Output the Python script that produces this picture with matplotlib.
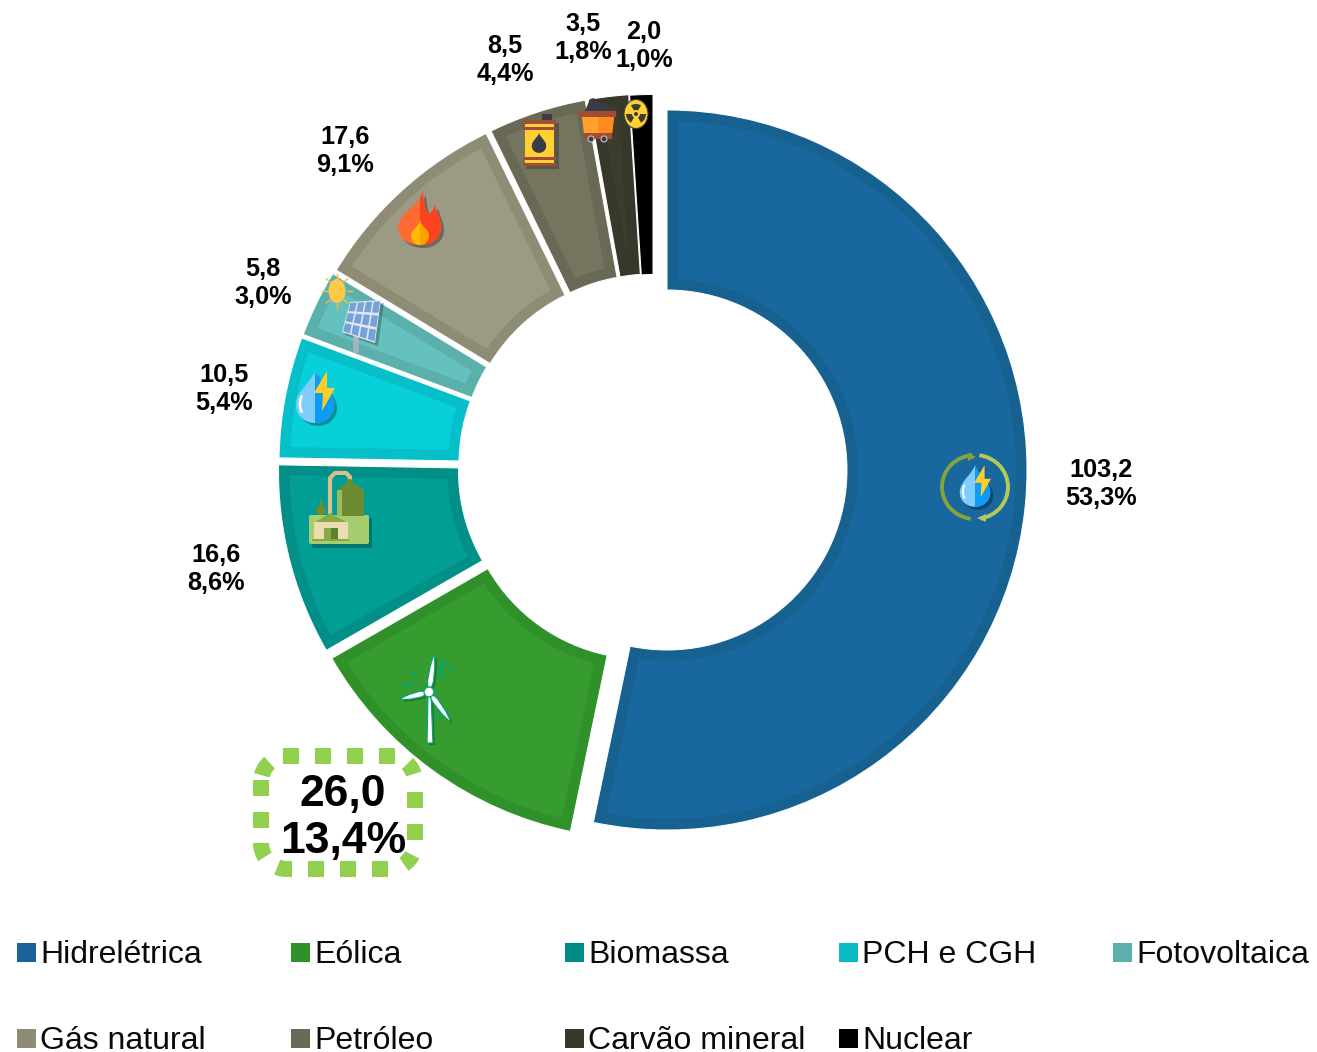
import numpy as np
import matplotlib
matplotlib.use('Agg')
import matplotlib.pyplot as plt
from matplotlib.patches import Wedge, Rectangle, FancyBboxPatch, PathPatch, Circle, Polygon, Ellipse, Arc
from matplotlib.path import Path
from matplotlib.transforms import Affine2D

plt.rcParams['font.family'] = ['Liberation Sans', 'DejaVu Sans']

# data
names = ['Hidrelétrica', 'Eólica', 'Biomassa', 'PCH e CGH', 'Fotovoltaica',
         'Gás natural', 'Petróleo', 'Carvão mineral', 'Nuclear']
values = [103.2, 26.0, 16.6, 10.5, 5.8, 17.6, 8.5, 3.5, 2.0]
percents = ['53,3%', '13,4%', '8,6%', '5,4%', '3,0%', '9,1%', '4,4%', '1,8%', '1,0%']

# colours
fills = ['#19679F', '#379C30', '#019E95', '#08D0DB', '#64C1BD', '#9C9A82', '#75745F', '#3D3D2E', '#000000']
borders = ['#16618F', '#30902A', '#018F88', '#06BFC9', '#5BB0AC', '#8E8C75', '#6A6956', '#37372A', '#000000']
legend_cols = ['#19639A', '#30902A', '#008C86', '#0ABBC6', '#5BB0AC', '#8E8C75', '#6A6956', '#37372A', '#000000']

# every slice is pulled out a bit differently in the original (pixel centres)
centres = [(667, 470), (644, 479), (638.5, 471), (639, 464), (640.5, 460.5),
           (644, 457), (649, 454.5), (652, 454), (653, 454.5)]
label_pos = [(1101, 484), (343, 818), (216, 569), (224, 389), (263, 283),
             (345, 151), (505, 60), (583, 38), (644, 46)]
R_OUT = 360
R_IN = 180
BORDER = 11
DARK = '#3B3B45'

fig = plt.figure(figsize=(13.17, 10.52), dpi=100)
ax = fig.add_axes([0, 0, 1, 1])
ax.set_xlim(0, 1317)
ax.set_ylim(1052, 0)
ax.axis('off')
PX = 72 / fig.dpi

# donut, clockwise from the top
angle = 0
total = sum(values)
for i, v in enumerate(values):
    span = v / total * 360
    w = Wedge(centres[i], R_OUT, angle - 90, angle + span - 90, width=R_OUT - R_IN,
              facecolor=fills[i], edgecolor=borders[i], linewidth=2 * BORDER * PX,
              joinstyle='miter', zorder=2)
    ax.add_patch(w)
    w.set_clip_path(w)
    # thin white separator
    ax.add_patch(Wedge(centres[i], R_OUT, angle - 90, angle + span - 90, width=R_OUT - R_IN,
                       facecolor='none', edgecolor='white', linewidth=1.0 * PX, zorder=3))
    angle += span


def tr(x, y, s=1.0):
    return Affine2D().scale(s).translate(x, y) + ax.transData


def curve(start, segs):
    # closed path out of cubic pieces, each seg is 3 points
    verts = [start]
    codes = [Path.MOVETO]
    for seg in segs:
        verts += seg
        codes += [Path.CURVE4] * 3
    verts.append(start)
    codes.append(Path.CLOSEPOLY)
    return Path(verts, codes)


def poly(pts, color, z=6):
    ax.add_patch(Polygon(pts, facecolor=color, edgecolor='none', zorder=z))


def half_shade(path, left, right, split, x=0, y=0, s=1.0, z=6, shadow=True):
    # left colour with the right part of the same outline in a second colour
    if shadow:
        ax.add_patch(PathPatch(path, facecolor='black', edgecolor='none', alpha=0.3,
                               transform=tr(x + 3, y + 3, s), zorder=z - 0.5))
    ax.add_patch(PathPatch(path, facecolor=left, edgecolor='none', transform=tr(x, y, s), zorder=z))
    p = PathPatch(path, facecolor=right, edgecolor='none', transform=tr(x, y, s), zorder=z + 0.1)
    ax.add_patch(p)
    p.set_clip_path(Rectangle((split, -2000), 4000, 4000, transform=tr(x, y, s)))


drop = curve((0, -26), [[(-4, -14), (-19, -6), (-19, 8)], [(-19, 19), (-10, 26), (0, 26)],
                        [(10, 26), (19, 19), (19, 8)], [(19, -6), (4, -14), (0, -26)]])


def bolt_drop(x, y, s):
    half_shade(drop, '#80CCFF', '#0C9BF7', 0, x, y, s)
    ax.add_patch(Arc((-8, 7), 14, 24, theta1=120, theta2=240, color='white', lw=1.8 * s,
                     transform=tr(x, y, s), zorder=6.2))
    bolt = [(12, -26), (-1, -4), (8, -4), (7, 14), (20, -9), (12, -9)]
    ax.add_patch(Polygon(bolt, facecolor='#FFCD28', edgecolor='none', transform=tr(x, y, s), zorder=6.3))


# hydro icon with arrows around the drop
bolt_drop(975, 486, 0.8)
for t1, t2, col in [(98, 265, '#87A33B'), (-82, 80, '#B5C85A')]:
    ax.add_patch(Arc((975, 487), 66, 64, theta1=t1, theta2=t2, color=col, lw=2.8, zorder=6))
poly([(968, 453), (976, 457), (968, 461)], '#87A33B')
poly([(986, 514), (977, 518), (986, 522)], '#B5C85A')

# PCH drop
bolt_drop(315, 397, 1.0)


# wind turbine
def blade(p0, p1, width, z):
    p0 = np.array(p0, float)
    p1 = np.array(p1, float)
    d = p1 - p0
    n = np.array([-d[1], d[0]]) / np.hypot(*d)
    pts = [p0 + n * width * 0.3, p0 + d * 0.3 + n * width, p0 + d * 0.7 + n * width * 0.8, p0 + d * 0.96 + n * width * 0.3,
           p1, p0 + d * 0.96 - n * width * 0.3, p0 + d * 0.7 - n * width * 0.8, p0 + d * 0.3 - n * width,
           p0 - n * width * 0.3]
    ax.add_patch(Polygon(np.array(pts) + 2, facecolor='black', edgecolor='none', alpha=0.25, zorder=z - 0.3))
    ax.add_patch(Polygon(pts, facecolor='white', edgecolor='#00A57E', lw=0.9, zorder=z))


HUB = (429, 692)
tower = [(428, 692), (431, 692), (433, 743), (427, 743)]
ax.add_patch(Polygon(np.array(tower) + 2, facecolor='black', edgecolor='none', alpha=0.25, zorder=5.7))
ax.add_patch(Polygon(tower, facecolor='white', edgecolor='#00A57E', lw=0.9, zorder=6))
for tip in [(434, 656), (401, 699), (450, 721)]:
    blade(HUB, tip, 3, 6.2)
ax.add_patch(Circle(HUB, 5, facecolor='white', edgecolor='#00A57E', lw=1, zorder=6.4))
for (a, b, c, d) in [(447, 664, 453, 672), (441, 662, 439, 678), (409, 671, 416, 674), (403, 686, 416, 683),
                     (444, 660, 442, 677), (434, 720, 440, 716), (435, 713, 442, 708)]:
    ax.plot([a, c], [b, d], color='#00A57E', lw=1.1, zorder=5.5)

# biomass plant
ax.add_patch(Rectangle((312, 518), 60, 30, facecolor='black', alpha=0.25, zorder=5))
ax.add_patch(FancyBboxPatch((309, 515), 60, 29, boxstyle='round,pad=0,rounding_size=2',
                            facecolor='#A5CE6E', edgecolor='none', zorder=6))
ax.add_patch(Rectangle((337, 490), 27, 26, facecolor='#6D8B32', edgecolor='none', zorder=6.1))
ax.add_patch(Rectangle((337, 490), 5, 26, facecolor='#9DBB5A', edgecolor='none', zorder=6.2))
poly([(337, 490), (345, 484), (356, 484), (364, 490)], '#6D8B32', 6.1)
ax.add_patch(Circle((350, 482), 3, facecolor='#6D8B32', zorder=6.1))
ax.plot([330, 330, 335, 346, 350, 350], [512, 478, 473, 473, 477, 484],
        color='#D9BE8E', lw=3, zorder=6.05, solid_joinstyle='round')
ax.add_patch(Circle((321, 510), 5, facecolor='#6D8B32', zorder=6.1))
ax.plot([321, 321], [500, 508], color='#6D8B32', lw=1.5, zorder=6.1)
poly([(314, 523), (330, 513), (348, 523)], '#86A943', 6.3)
ax.add_patch(Rectangle((314, 522), 34, 17, facecolor='#EBDDB0', edgecolor='none', zorder=6.3))
ax.add_patch(Rectangle((324, 528), 14, 11, facecolor='#86A943', edgecolor='none', zorder=6.4))
ax.add_patch(Rectangle((331, 528), 7, 11, facecolor='#5E7F2B', edgecolor='none', zorder=6.5))
ax.add_patch(Rectangle((312, 539), 37, 2, facecolor='#86A943', edgecolor='none', zorder=6.4))

# sun and solar panel
for a in np.radians(np.arange(0, 360, 45)):
    ax.plot([337 + 10 * np.cos(a), 337 + 15 * np.cos(a)], [291 + 13 * np.sin(a), 291 + 17 * np.sin(a)],
            color='#F4B942', lw=1, zorder=6)
ax.add_patch(Ellipse((337, 291), 17, 24, facecolor='#FFC94A', edgecolor='none', zorder=6.1))
ax.plot([356, 356], [338, 350], color='#A9B4BE', lw=4, zorder=6)
panel = [(350, 302), (381, 300), (375, 343), (342, 332)]
ax.add_patch(Polygon(np.array(panel) + 3, facecolor='black', alpha=0.25, edgecolor='none', zorder=5.9))
poly(panel, '#E1E6EC', 6.1)
top = np.array(panel[0], float), np.array(panel[1], float)
bot = np.array(panel[3], float), np.array(panel[2], float)
for r in range(3):
    for c in range(4):
        q = []
        for u, w_ in [(c + .1, r + .1), (c + .9, r + .1), (c + .9, r + .9), (c + .1, r + .9)]:
            a = top[0] + (top[1] - top[0]) * u / 4
            b = bot[0] + (bot[1] - bot[0]) * u / 4
            q.append(a + (b - a) * w_ / 3)
        poly(q, '#74A3DA', 6.2)

# flame
flame = curve((422, 190), [[(424, 204), (398, 212), (398, 228)], [(398, 238), (408, 245), (420, 245)],
                           [(432, 245), (441, 238), (441, 227)], [(441, 218), (436, 212), (435, 205)],
                           [(434, 210), (431, 213), (428, 214)], [(424, 208), (424, 198), (422, 190)]])
half_shade(flame, '#FF6A33', '#FC431E', 420)
core = curve((420, 220), [[(420, 226), (411, 230), (411, 235)], [(411, 241), (415, 245), (420, 245)],
                          [(425, 245), (429, 241), (429, 235)], [(429, 230), (421, 227), (420, 220)]])
half_shade(core, '#FFBB00', '#FFA000', 420, z=6.3, shadow=False)

# oil barrel
ax.add_patch(Rectangle((526, 123), 33, 46, facecolor='black', alpha=0.25, zorder=5))
ax.add_patch(Rectangle((525, 122), 29, 42, facecolor='#FFD033', edgecolor='none', zorder=6))
for yy, hh in [(120, 4), (127, 2.5), (157, 3), (163, 3)]:
    ax.add_patch(Rectangle((523, yy), 33, hh, facecolor='#A34B33', edgecolor='none', zorder=6.1))
ax.add_patch(Rectangle((542, 114), 10, 6, facecolor=DARK, edgecolor='none', zorder=6))
ax.add_patch(PathPatch(drop, facecolor=DARK, edgecolor='none', transform=tr(539, 143, 0.38), zorder=6.2))

# mine cart
poly([(590, 99), (594, 98), (599, 103), (604, 102), (610, 111), (585, 111)], DARK, 6)
poly([(582, 117), (614, 117), (612, 134), (584, 134)], '#FFA12B', 6.1)
poly([(598, 117), (614, 117), (612, 134), (598, 134)], '#FF8A1F', 6.2)
ax.add_patch(Rectangle((579, 111), 37, 6, facecolor='#A34B33', edgecolor='none', zorder=6.3))
ax.add_patch(Rectangle((583, 133), 29, 6, facecolor='#A34B33', edgecolor='none', zorder=6.3))
for xx in [591, 604]:
    ax.add_patch(Circle((xx, 139), 3, facecolor=DARK, edgecolor='#C0C4CC', lw=0.8, zorder=6.4))

# radiation badge
ax.add_patch(Ellipse((636, 114), 24, 29, facecolor='#FFD033', edgecolor='#3D3D2E', lw=0.8, zorder=6))
for a in [270, 30, 150]:
    ax.add_patch(Wedge((636, 114), 10, a - 30, a + 30, width=6, facecolor='#3D3D2E', edgecolor='none', zorder=6.1))
ax.add_patch(Circle((636, 114), 2, facecolor='#3D3D2E', edgecolor='none', zorder=6.1))

# dashed highlight round the wind label, dashes placed one by one to land where the original has them
GREEN = '#92D050'
for xx in [283, 315, 347, 379]:
    ax.add_patch(Rectangle((xx, 748), 16, 16, facecolor=GREEN, edgecolor='none', zorder=4))
for xx in [308, 340, 372]:
    ax.add_patch(Rectangle((xx, 861), 16, 16, facecolor=GREEN, edgecolor='none', zorder=4))
for yy in [780, 812]:
    ax.add_patch(Rectangle((253, yy), 16, 16, facecolor=GREEN, edgecolor='none', zorder=4))
for yy in [792, 824]:
    ax.add_patch(Rectangle((407, yy), 16, 16, facecolor=GREEN, edgecolor='none', zorder=4))
ax.add_patch(Rectangle((287, 861), 5, 16, facecolor=GREEN, edgecolor='none', zorder=4))
for c, t1, t2 in [((287, 782), 195, 228), ((389, 782), -45, -18), ((287, 843), 148, 180),
                  ((287, 843), 90, 112), ((389, 843), 27, 55)]:
    ax.add_patch(Wedge(c, 34, t1, t2, width=16, facecolor=GREEN, edgecolor='none', zorder=4))

# value labels
for i, v in enumerate(values):
    txt = '{:.1f}'.format(v).replace('.', ',') + '\n' + percents[i]
    big = names[i] == 'Eólica'
    ax.text(label_pos[i][0], label_pos[i][1], txt, ha='center', va='center', fontweight='bold',
            fontsize=32 if big else 18.2, linespacing=1.2 if big else 1.23, color='black', zorder=8)

# legend by hand, the original columns are fixed width
leg_x = [17, 291, 565, 839, 1113]
leg_y = [943, 1029]
for i, name in enumerate(names):
    x = leg_x[i % 5]
    y = leg_y[i // 5]
    ax.add_patch(Rectangle((x, y), 19, 19, facecolor=legend_cols[i], edgecolor='none', zorder=5))
    ax.text(x + 23.5, y + 20, name, ha='left', va='baseline', fontsize=23, color='#0a0a0a', zorder=5)

fig.savefig('out.png', dpi=100)
